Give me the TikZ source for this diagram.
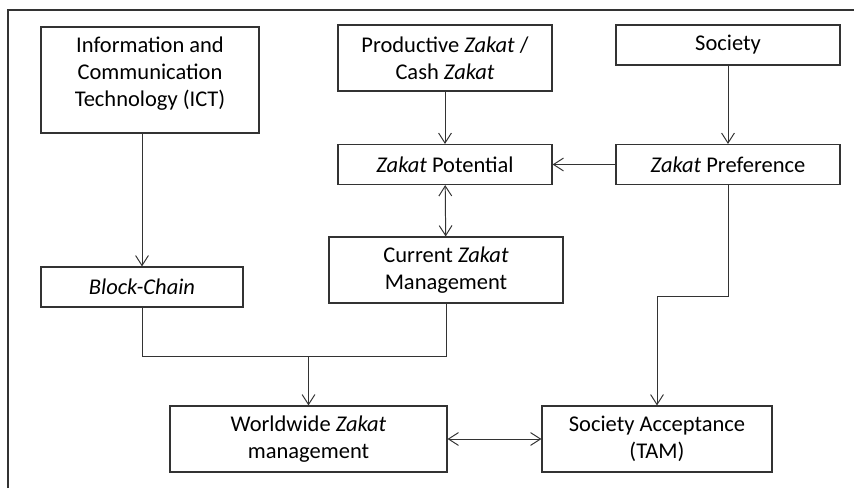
\documentclass[tikz,border=0pt]{standalone}
\usepackage{fontspec}
\setmainfont{Carlito}
\usepackage{tikz}
\usetikzlibrary{arrows.meta}

\begin{document}
\begin{tikzpicture}[
	box/.style={draw=black!80, line width=0.8pt, align=center,
		inner sep=2pt, font=\fontsize{16}{19.2}\selectfont},
	link/.style={draw=black!80, line width=0.7pt},
	>={Straight Barb[length=0.25cm,width=0.32cm]}
]
\useasboundingbox (0,0) rectangle (21.35,12.2);
\draw[black!80, line width=0.8pt] (0.2,0) -- (0.2,11.95) -- (21.35,11.95);

% top row
\node[box, minimum width=5.45cm, minimum height=2.65cm] (ict) at (3.75,10.2)
	{Information and\\Communication\\Technology (ICT)\\[-8pt]};
\node[box, minimum width=5.35cm, minimum height=1.65cm] (prod) at (11.125,10.75)
	{Productive \textit{Zakat} /\\Cash \textit{Zakat}};
\node[box, minimum width=5.6cm, minimum height=1cm] (soc) at (18.2,11.075) {Society};

% middle
\node[box, minimum width=5.35cm, minimum height=1cm] (pot) at (11.125,8.0875)
	{\textit{Zakat} Potential};
\node[box, minimum width=5.6cm, minimum height=1cm] (pref) at (18.2,8.0875)
	{\textit{Zakat} Preference};
\node[box, minimum width=5.05cm, minimum height=1cm] (bc) at (3.55,5.025)
	{\textit{Block-Chain}};
\node[box, minimum width=5.85cm, minimum height=1.65cm] (cur) at (11.15,5.45)
	{Current \textit{Zakat}\\Management};

% bottom row
\node[box, minimum width=6.925cm, minimum height=1.65cm] (ww) at (7.7125,1.225)
	{Worldwide \textit{Zakat}\\management};
\node[box, minimum width=5.75cm, minimum height=1.65cm] (acc) at (16.425,1.225)
	{Society Acceptance\\(TAM)};

\coordinate (join) at (7.7125,3.3);
\coordinate (bend) at (16.425,4.8);

\draw[link,->] (ict.south -| bc.north) -- (bc.north);
\draw[link,->] (prod) -- (pot);
\draw[link,->] (soc) -- (pref);
\draw[link,->] (pref) -- (pot);
\draw[link,<->] (pot) -- (cur);
\draw[link] (bc.south) |- (join);
\draw[link] (cur.south) |- (join);
\draw[link,->] (join) -- (ww.north);
\draw[link,->] (pref.south) |- (bend) -- (acc.north);
\draw[link,<->] (ww) -- (acc);

\end{tikzpicture}
\end{document}
